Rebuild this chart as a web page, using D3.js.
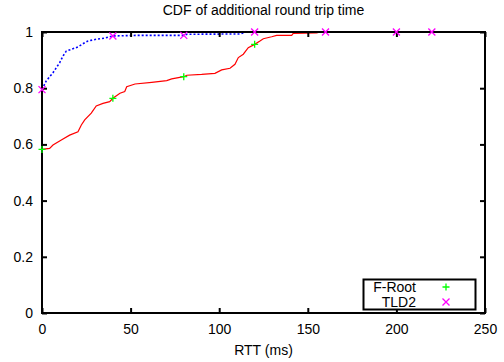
<!DOCTYPE html>
<html>
<head>
<meta charset="utf-8">
<script src="https://cdn.jsdelivr.net/npm/d3@7"></script>
<style>
  html, body { margin: 0; padding: 0; background: #fff; }
  svg { display: block; }
  text { font-family: "Liberation Sans", Arial, Helvetica, sans-serif; fill: #000; }
</style>
</head>
<body>
<svg id="chart" width="504" height="362"></svg>
<script>
const title = "CDF of additional round trip time";
const xLabel = "RTT (ms)";
const xTicks = [0, 50, 100, 150, 200, 250];
const yTicks = [0, 0.2, 0.4, 0.6, 0.8, 1];
const yTickLabels = ["0", "0.2", "0.4", "0.6", "0.8", "1"];
const seriesNames = ["F-Root", "TLD2"];

// F-Root CDF curve
const frootX = [0, 4.3, 6.2, 10.9, 15.6, 20.3, 22.2, 24.1, 27.8, 30.6, 34.4, 38.2, 40, 44, 46.7, 47.8, 52.5, 61.9, 70.4, 73.2, 80, 81.7, 90.1, 97.6, 101.4, 106.1, 108.9, 110.8, 113.6, 116.4, 120, 123, 124.9, 129.6, 132.4, 140.9, 141.8, 155, 157];
const frootY = [0.582, 0.586, 0.598, 0.616, 0.633, 0.645, 0.669, 0.687, 0.711, 0.737, 0.746, 0.752, 0.764, 0.782, 0.788, 0.805, 0.815, 0.821, 0.827, 0.833, 0.841, 0.846, 0.849, 0.853, 0.865, 0.871, 0.885, 0.909, 0.921, 0.944, 0.956, 0.968, 0.976, 0.983, 0.988, 0.988, 0.995, 0.997, 1];
const frootMarkX = [0, 40, 80, 120];
const frootMarkY = [0.582, 0.764, 0.841, 0.956];

// TLD2 CDF curve
const tldX = [0, 2.4, 6.2, 10, 11.9, 13.7, 16.5, 20.3, 24.1, 26, 30.6, 35.4, 40, 54, 80, 82, 112, 115, 220];
const tldY = [0.795, 0.826, 0.855, 0.891, 0.915, 0.932, 0.938, 0.947, 0.962, 0.968, 0.974, 0.978, 0.986, 0.988, 0.988, 0.992, 0.993, 1, 1];
const tldMarkX = [0, 40, 80, 120, 160, 200, 220];
const tldMarkY = [0.795, 0.986, 0.988, 1, 1, 1, 1];

const W = 504, H = 362;
const margin = { left: 42, right: 19, top: 32, bottom: 49 };
const x = d3.scaleLinear().domain([0, 250]).range([margin.left, W - margin.right]);
const y = d3.scaleLinear().domain([0, 1]).range([H - margin.bottom, margin.top]);

const svg = d3.select("#chart");
const tickLen = 5;

// curves
const line = d3.line().x(d => x(d[0])).y(d => y(d[1]));
const froot = frootX.map((v, i) => [v, frootY[i]]);
const tld = tldX.map((v, i) => [v, tldY[i]]);

svg.append("path").attr("d", line(froot)).attr("fill", "none")
  .attr("stroke", "#ff0000").attr("stroke-width", 1.2);
svg.append("path").attr("d", line(tld)).attr("fill", "none")
  .attr("stroke", "#0000ff").attr("stroke-width", 1.6).attr("stroke-dasharray", "2,2");

// axes (ticks inward, mirrored)
const fmtY = (d, i) => yTickLabels[i];
const axB = d3.axisBottom(x).tickValues(xTicks).tickSize(-tickLen).tickPadding(tickLen + 6);
const axT = d3.axisTop(x).tickValues(xTicks).tickSize(-tickLen).tickFormat("");
const axL = d3.axisLeft(y).tickValues(yTicks).tickSize(-tickLen).tickPadding(tickLen + 4).tickFormat(fmtY);
const axR = d3.axisRight(y).tickValues(yTicks).tickSize(-tickLen).tickFormat("");

function style(g) {
  g.select(".domain").remove();
  g.selectAll(".tick line").attr("stroke", "#000").attr("stroke-width", 2);
  g.selectAll(".tick text").attr("font-size", 14).attr("font-family", "Liberation Sans, Arial, sans-serif").attr("fill", "#000");
}
svg.append("g").attr("transform", `translate(0,${H - margin.bottom})`).call(axB).call(style);
svg.append("g").attr("transform", `translate(0,${margin.top})`).call(axT).call(style);
svg.append("g").attr("transform", `translate(${margin.left},0)`).call(axL).call(style);
svg.append("g").attr("transform", `translate(${W - margin.right},0)`).call(axR).call(style);

// frame
svg.append("rect")
  .attr("x", margin.left).attr("y", margin.top)
  .attr("width", W - margin.left - margin.right)
  .attr("height", H - margin.top - margin.bottom)
  .attr("fill", "none").attr("stroke", "#000").attr("stroke-width", 2);

// markers
function plus(g, cx, cy, color) {
  g.append("path").attr("d", `M${cx - 3.5},${cy}H${cx + 3.5}M${cx},${cy - 3.5}V${cy + 3.5}`)
    .attr("stroke", color).attr("stroke-width", 1.3).attr("fill", "none");
}
function cross(g, cx, cy, color) {
  g.append("path").attr("d", `M${cx - 3.5},${cy - 3.5}L${cx + 3.5},${cy + 3.5}M${cx - 3.5},${cy + 3.5}L${cx + 3.5},${cy - 3.5}`)
    .attr("stroke", color).attr("stroke-width", 1.3).attr("fill", "none");
}
const mk = svg.append("g");
frootMarkX.forEach((v, i) => plus(mk, x(v), y(frootMarkY[i]), "#00ff00"));
tldMarkX.forEach((v, i) => cross(mk, x(v), y(tldMarkY[i]), "#ff00ff"));

// title and axis label
svg.append("text").attr("x", (margin.left + W - margin.right) / 2).attr("y", 15)
  .attr("text-anchor", "middle").attr("font-size", 14).text(title);
svg.append("text").attr("x", (margin.left + W - margin.right) / 2).attr("y", 355)
  .attr("text-anchor", "middle").attr("font-size", 14).text(xLabel);

// legend
const lg = svg.append("g");
lg.append("rect").attr("x", 363.5).attr("y", 279.5).attr("width", 112).attr("height", 30)
  .attr("fill", "#fff").attr("stroke", "#000").attr("stroke-width", 2);
seriesNames.forEach((name, i) => {
  const cy = 287 + i * 15;
  lg.append("text").attr("x", 416).attr("y", cy + 5).attr("text-anchor", "end")
    .attr("font-size", 14).text(name);
  if (i === 0) plus(lg, 446, cy, "#00ff00"); else cross(lg, 446, cy, "#ff00ff");
});
</script>
</body>
</html>
